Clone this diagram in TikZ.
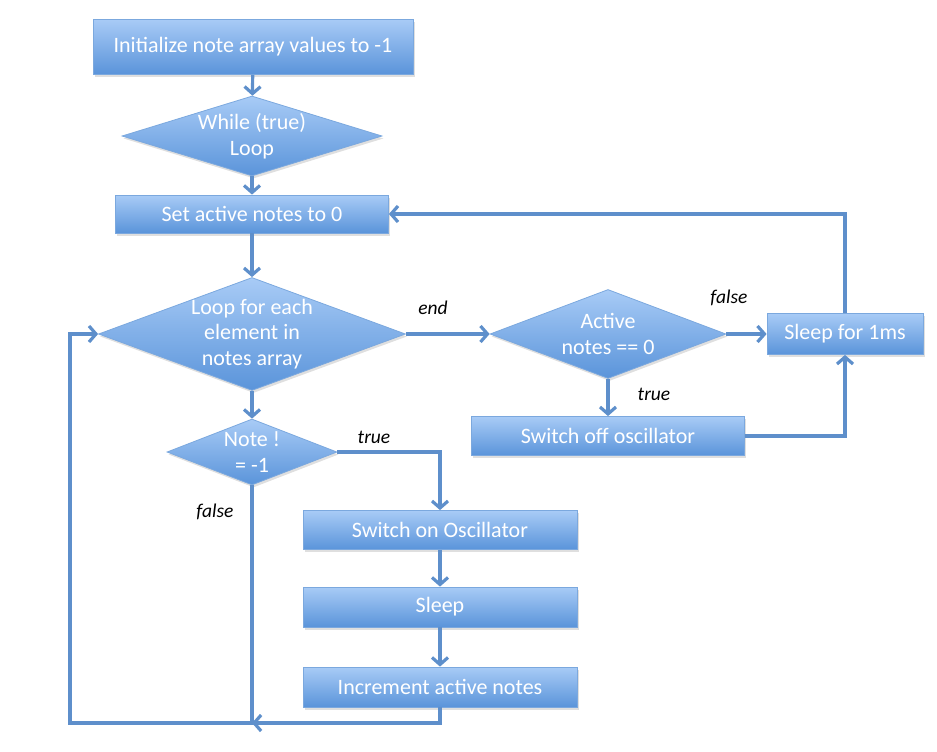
\documentclass[tikz,border=0pt]{standalone}
\usepackage{fontspec}
\setmainfont{Carlito}
\usetikzlibrary{shapes.geometric,arrows.meta,shadows,calc}
\definecolor{boxtop}{HTML}{A8CBF6}
\definecolor{boxbot}{HTML}{5A94DA}
\definecolor{boxline}{HTML}{7BA8DE}
\definecolor{flow}{HTML}{5E8FCB}
\begin{document}
\begin{tikzpicture}[x=1pt,y=-1pt,
  shape base/.style={draw=boxline, line width=0.8pt,
    top color=boxtop, bottom color=boxbot,
    drop shadow={opacity=0.25, shadow xshift=1.5pt, shadow yshift=-2.5pt}},
  block/.style={shape base, rectangle, text=white, inner sep=0pt,
    font=\fontsize{22}{25}\selectfont},
  decision/.style={shape base, diamond, inner sep=0pt},
  dtext/.style={text=white, align=center, inner sep=0pt,
    font=\fontsize{22}{25.5}\selectfont},
  flowline/.style={draw=flow, line width=3.2pt},
  arr/.style={flowline, -{Straight Barb[length=7pt,width=16pt]}},
  lbl/.style={text=black, font=\fontsize{19.5}{22}\selectfont\itshape}]

\useasboundingbox (0,0) rectangle (937,752);

% main column
\node[block, minimum width=320pt, minimum height=55pt] (init) at (253,47)
  {Initialize note array values to -1};
\node[decision, minimum width=260pt, minimum height=80pt,
  label={[dtext]center:{While (true)\\Loop}}] (while) at (252,136) {};
\node[block, minimum width=273pt, minimum height=38pt] (set) at (252,214)
  {Set active notes to 0};
\node[decision, minimum width=307pt, minimum height=113pt,
  label={[dtext]center:{Loop for each\\element in\\notes array}}] (loop) at (252,334) {};
\node[decision, minimum width=170pt, minimum height=66pt,
  label={[dtext]center:{Note !\\= -1}}] (note) at (252,452) {};

% end-of-loop branch
\node[decision, minimum width=236pt, minimum height=89pt,
  label={[dtext]center:{Active\\notes == 0}}] (active) at (608,334) {};
\node[block, minimum width=156pt, minimum height=41pt] (sleepms) at (845,334)
  {Sleep for 1ms};
\node[block, minimum width=273pt, minimum height=39pt] (off) at (608,436)
  {Switch off oscillator};

% note-on branch
\node[block, minimum width=274pt, minimum height=39pt] (swon) at (440,530)
  {Switch on Oscillator};
\node[block, minimum width=274pt, minimum height=40pt] (sleep) at (440,607)
  {Sleep};
\node[block, minimum width=274pt, minimum height=40pt] (inc) at (440,687)
  {Increment active notes};

\coordinate (join) at (252,723);
\coordinate (corner) at (70,723);

% connectors
\draw[arr] (init) -- (while);
\draw[arr] (while) -- (set);
\draw[arr] (set) -- (loop);
\draw[arr] (loop.east) -- (active.west);
\draw[arr] (active.east) -- (sleepms.west);
\draw[arr] (sleepms.north) |- (set.east);
\draw[arr] (active) -- (off);
\draw[arr] (off.east) -| (sleepms.south);
\draw[arr] (loop) -- (note);
\draw[arr] (note.east) -| (swon.north);
\draw[arr] (swon) -- (sleep);
\draw[arr] (sleep) -- (inc);
\draw[arr] (inc.south) |- (join);
\draw[arr] (note.south) -- (join) -- (corner) |- (loop.west);

% branch labels
\node[lbl] (lend) at (433,308) {end};
\node[lbl] (lfalse1) at (729,298) {false};
\node[lbl] (ltrue1) at (654,394) {true};
\node[lbl] (ltrue2) at (374,437) {true};
\node[lbl] (lfalse2) at (215,512) {false};
\end{tikzpicture}
\end{document}
